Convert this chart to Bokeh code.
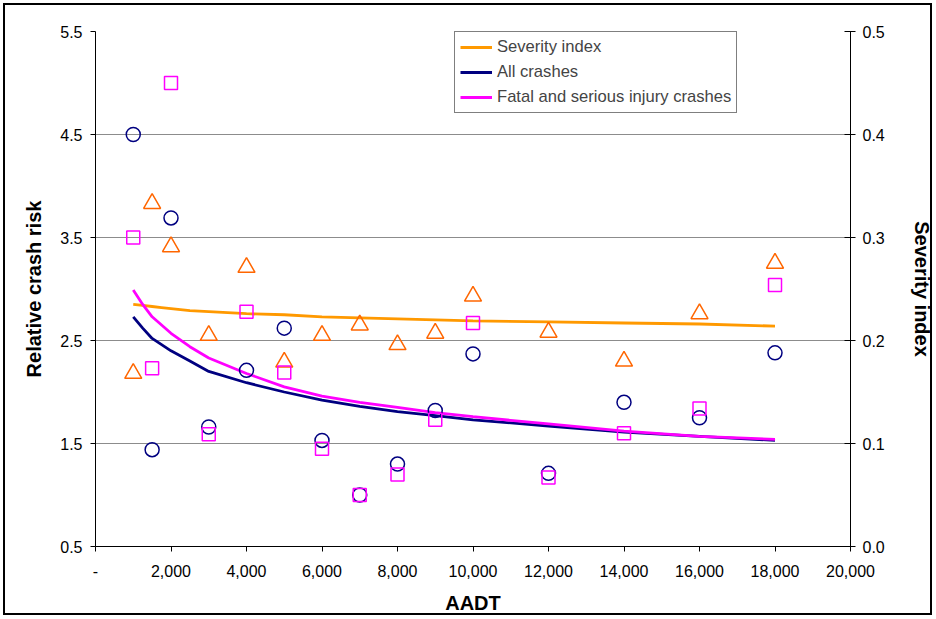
from bokeh.plotting import figure
from bokeh.models import (Range1d, LinearAxis, FixedTicker, Legend, LegendItem,
                          ColumnDataSource)
from bokeh.embed import file_html
from bokeh.resources import INLINE

# ---- data ----
aadt = [1000, 1500, 2000, 3000, 4000, 5000, 6000, 7000, 8000, 9000, 10000,
        12000, 14000, 16000, 18000]
all_crashes = [4.50, 1.44, 3.69, 1.66, 2.21, 2.62, 1.53, 1.00, 1.30, 1.82, 2.37,
               1.21, 1.90, 1.75, 2.38]
fatal_serious = [3.50, 2.23, 5.00, 1.59, 2.78, 2.19, 1.45, 1.00, 1.20, 1.73, 2.67,
                 1.17, 1.60, 1.84, 3.04]
severity = [0.168, 0.333, 0.291, 0.205, 0.271, 0.179, 0.205, 0.215, 0.196, 0.207,
            0.243, 0.208, 0.180, 0.226, 0.275]

trend_aadt = [1000, 1250, 1500, 1750, 2000, 2500, 3000, 4000, 5000, 6000, 7000,
              8000, 9000, 10000, 12000, 14000, 16000, 18000]
all_trend = [2.73, 2.62, 2.52, 2.46, 2.40, 2.30, 2.20, 2.09, 2.00, 1.92, 1.86,
             1.81, 1.77, 1.73, 1.67, 1.61, 1.57, 1.53]
fatal_trend = [2.99, 2.85, 2.73, 2.65, 2.57, 2.44, 2.33, 2.18, 2.05, 1.96, 1.90,
               1.85, 1.80, 1.76, 1.69, 1.62, 1.57, 1.54]
sev_trend = [0.235, 0.234, 0.233, 0.232, 0.231, 0.229, 0.228, 0.226, 0.225, 0.223,
             0.222, 0.221, 0.220, 0.219, 0.218, 0.217, 0.216, 0.214]

x_ticks = [0, 2000, 4000, 6000, 8000, 10000, 12000, 14000, 16000, 18000, 20000]
x_tick_labels = ["-", "2,000", "4,000", "6,000", "8,000", "10,000", "12,000",
                 "14,000", "16,000", "18,000", "20,000"]
y_ticks = [0.5, 1.5, 2.5, 3.5, 4.5, 5.5]
y_tick_labels = ["0.5", "1.5", "2.5", "3.5", "4.5", "5.5"]
sev_ticks = [0.0, 0.1, 0.2, 0.3, 0.4, 0.5]
sev_tick_labels = ["0.0", "0.1", "0.2", "0.3", "0.4", "0.5"]

FONT = "Liberation Sans"
NAVY = "#000080"
MAGENTA = "#FF00FF"
ORANGE_LINE = "#FF9900"
ORANGE_MARK = "#FF6600"

p = figure(width=935, height=618, output_backend="svg", toolbar_location=None,
           x_range=Range1d(0, 20000), y_range=Range1d(0.5, 5.5),
           min_border_left=95, min_border_right=80, min_border_top=31,
           min_border_bottom=72)
p.extra_y_ranges = {"sev": Range1d(0, 0.5)}
p.outline_line_color = None
p.background_fill_color = "white"
p.border_fill_color = None
p.styles = {"background-color": "white",
            "box-shadow": "inset 0 0 0 3px white, inset 0 0 0 5px black"}

# grid
p.xgrid.visible = False
p.ygrid.ticker = FixedTicker(ticks=y_ticks)
p.ygrid.grid_line_color = "#8c8c8c"
p.ygrid.grid_line_width = 1

# axes
xa = p.xaxis[0]
xa.ticker = FixedTicker(ticks=x_ticks)
xa.major_label_overrides = dict(zip(x_ticks, x_tick_labels))
xa.axis_label = "AADT"

ya = p.yaxis[0]
ya.ticker = FixedTicker(ticks=y_ticks)
ya.major_label_overrides = dict(zip(y_ticks, y_tick_labels))
ya.axis_label = "Relative crash risk"

ra = LinearAxis(y_range_name="sev", axis_label="Severity index")
ra.ticker = FixedTicker(ticks=sev_ticks)
ra.major_label_overrides = dict(zip(sev_ticks, sev_tick_labels))
p.add_layout(ra, "right")

for ax in (xa, ya, ra):
    ax.axis_line_color = "black"
    ax.axis_line_width = 1
    ax.major_tick_line_color = "black"
    ax.major_tick_out = 5
    ax.major_tick_in = 0
    ax.minor_tick_line_color = None
    ax.major_label_text_font = FONT
    ax.major_label_text_font_size = "16px"
    ax.major_label_text_color = "black"
    ax.axis_label_text_font = FONT
    ax.axis_label_text_font_size = "20px"
    ax.axis_label_text_font_style = "bold"
    ax.axis_label_text_color = "black"
    ax.major_label_standoff = 8
    ax.axis_label_standoff = 12
ra.major_tick_in = 6
ra.major_label_standoff = 7
ra.axis_label_standoff = 23
xa.major_label_standoff = 13
xa.axis_label_standoff = 12
ya.major_label_orientation = "horizontal"
ra.major_label_orientation = "horizontal"

src = ColumnDataSource(dict(x=aadt, a=all_crashes, f=fatal_serious, s=severity))
tsrc = ColumnDataSource(dict(x=trend_aadt, a=all_trend, f=fatal_trend, s=sev_trend))

# trend lines
sev_line = p.line("x", "s", source=tsrc, y_range_name="sev",
                  line_color=ORANGE_LINE, line_width=2.8)
all_line = p.line("x", "a", source=tsrc, line_color=NAVY, line_width=2.8)
fat_line = p.line("x", "f", source=tsrc, line_color=MAGENTA, line_width=2.8)

# markers
p.scatter("x", "s", source=src, y_range_name="sev", marker="triangle", size=17,
          fill_color=None, line_color=ORANGE_MARK, line_width=1.5)
p.scatter("x", "a", source=src, marker="circle", size=14,
          fill_color=None, line_color=NAVY, line_width=1.5)
p.scatter("x", "f", source=src, marker="square", size=13,
          fill_color=None, line_color=MAGENTA, line_width=1.5)

legend = Legend(items=[LegendItem(label="Severity index", renderers=[sev_line]),
                       LegendItem(label="All crashes", renderers=[all_line]),
                       LegendItem(label="Fatal and serious injury crashes",
                                  renderers=[fat_line])],
                location=(359, 433))
legend.border_line_color = "black"
legend.border_line_width = 1
legend.background_fill_color = "white"
legend.background_fill_alpha = 1
legend.label_text_font = FONT
legend.label_text_font_size = "16.6px"
legend.glyph_width = 32
legend.glyph_height = 20
legend.label_height = 20
legend.label_standoff = 5
legend.spacing = 5
legend.padding = 5
legend.margin = 0
p.add_layout(legend)

open("out.html", "w").write(file_html(p, INLINE))
